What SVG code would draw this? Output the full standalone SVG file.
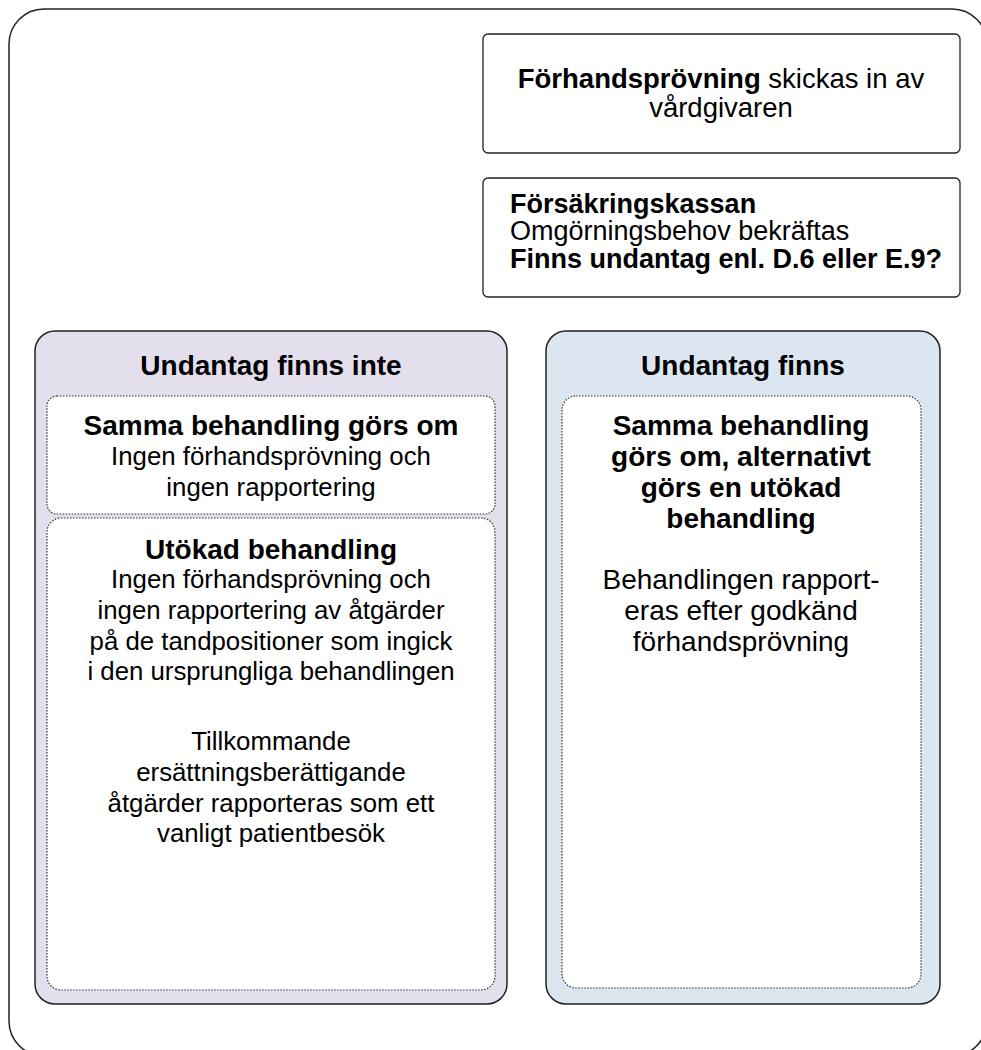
<svg xmlns="http://www.w3.org/2000/svg" width="981" height="1050" viewBox="0 0 981 1050">
<style>
text{font-family:"Liberation Sans",Arial,sans-serif;fill:#000;}
.c{text-anchor:middle;}
.b{font-weight:bold;}
.s27{font-size:27px;}
.s275{font-size:27.5px;}
.s28{font-size:28px;}
.s26{font-size:25.8px;}
.box{fill:#fff;stroke:#222;stroke-width:1.3;}
.dot{fill:#fff;stroke:#333;stroke-width:1.2;stroke-dasharray:1.5 1.5;}
.panel{stroke:#222;stroke-width:1.5;}
</style>
<rect x="9" y="9" width="978" height="1047" rx="35" ry="35" fill="#fff" stroke="#222" stroke-width="1.5"/>
<g id="node-forhandsprovning">
<rect class="box" x="483" y="34" width="477" height="119" rx="5"/>
<text class="s275 c" x="721" y="88"><tspan class="b">Förhandsprövning</tspan> skickas in av</text>
<text class="s275 c" x="721" y="117">vårdgivaren</text>
</g>
<g id="node-forsakringskassan">
<rect class="box" x="483" y="178" width="477" height="119" rx="5"/>
<text class="s27 b" x="510" y="213">Försäkringskassan</text>
<text class="s27" x="510" y="240">Omgörningsbehov bekräftas</text>
<text class="s27 b" x="510" y="268">Finns undantag enl. D.6 eller E.9?</text>
</g>
<g id="node-undantag-finns-inte">
<rect class="panel" x="35" y="331" width="472" height="673" rx="20" fill="#e4dfec"/>
<text class="s28 c b" x="271" y="375">Undantag finns inte</text>
</g>
<g id="node-samma-behandling">
<rect class="dot" x="47" y="396" width="448" height="118" rx="10"/>
<text class="s28 c b" x="271" y="435">Samma behandling görs om</text>
<text class="s26 c" x="271" y="465">Ingen förhandsprövning och</text>
<text class="s26 c" x="271" y="496">ingen rapportering</text>
</g>
<g id="node-utokad-behandling">
<rect class="dot" x="47" y="518" width="448" height="472" rx="14"/>
<text class="s28 c b" x="271" y="559">Utökad behandling</text>
<text class="s26 c" x="271" y="588">Ingen förhandsprövning och</text>
<text class="s26 c" x="271" y="619">ingen rapportering av åtgärder</text>
<text class="s26 c" x="271" y="650">på de tandpositioner som ingick</text>
<text class="s26 c" x="271" y="680">i den ursprungliga behandlingen</text>
<text class="s26 c" x="271" y="750">Tillkommande</text>
<text class="s26 c" x="271" y="781">ersättningsberättigande</text>
<text class="s26 c" x="271" y="812">åtgärder rapporteras som ett</text>
<text class="s26 c" x="271" y="842">vanligt patientbesök</text>
</g>
<g id="node-undantag-finns">
<rect class="panel" x="546" y="331" width="394" height="673" rx="20" fill="#dce6f1"/>
<text class="s28 c b" x="743" y="375">Undantag finns</text>
</g>
<g id="node-samma-eller-utokad">
<rect class="dot" x="562" y="396" width="359" height="592" rx="14"/>
<text class="s28 c b" x="741" y="435">Samma behandling</text>
<text class="s28 c b" x="741" y="466">görs om, alternativt</text>
<text class="s28 c b" x="741" y="497">görs en utökad</text>
<text class="s28 c b" x="741" y="528">behandling</text>
<text class="s28 c" x="741" y="589">Behandlingen rapport-</text>
<text class="s28 c" x="741" y="620">eras efter godkänd</text>
<text class="s28 c" x="741" y="651">förhandsprövning</text>
</g>
<g id="connectors"></g>
</svg>
